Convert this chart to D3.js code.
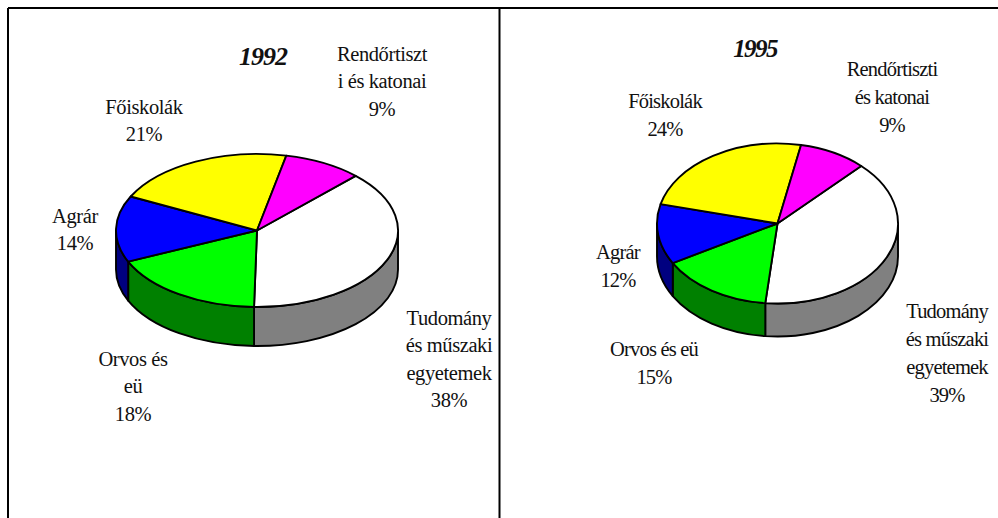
<!DOCTYPE html>
<html>
<head>
<meta charset="utf-8">
<script src="https://cdn.jsdelivr.net/npm/d3@7"></script>
<style>
  html, body { margin: 0; padding: 0; background: #fff; overflow: hidden; }
  text { font-family: "Liberation Serif", serif; fill: #111; }
</style>
</head>
<body>
<div id="chart"></div>
<script>
// slice order, clockwise from the start angle
const categories = ["Tudomány és műszaki egyetemek", "Orvos és eü", "Agrár", "Főiskolák", "Rendőrtiszti és katonai"];
const values1992 = [38, 18, 14, 21, 9];
const values1995 = [39, 15, 12, 24, 9];
const labelLines1992 = [
  ["Tudomány", "és műszaki", "egyetemek"],
  ["Orvos és", "eü"],
  ["Agrár"],
  ["Főiskolák"],
  ["Rendőrtiszt", "i és katonai"]
];
const labelLines1995 = [
  ["Tudomány", "és műszaki", "egyetemek"],
  ["Orvos és eü"],
  ["Agrár"],
  ["Főiskolák"],
  ["Rendőrtiszti", "és katonai"]
];
const topColors = ["#ffffff", "#00ff00", "#0000ff", "#ffff00", "#ff00ff"];
const sideColors = ["#808080", "#008000", "#000080", "#808000", "#800080"];

const width = 998, height = 518;

const svg = d3.select("#chart").append("svg")
  .attr("width", width)
  .attr("height", height)
  .style("display", "block");

// table frame
const frame = [
  [[8, 8], [998, 8]],
  [[8, 8], [8, 518]],
  [[499.5, 8], [499.5, 518]]
];
svg.selectAll("line.frame")
  .data(frame)
  .enter()
  .append("line")
  .attr("class", "frame")
  .attr("x1", d => d[0][0])
  .attr("y1", d => d[0][1])
  .attr("x2", d => d[1][0])
  .attr("y2", d => d[1][1])
  .attr("stroke", "#000")
  .attr("stroke-width", 2);

function drawPie(cfg) {
  const g = svg.append("g");
  const ratio = cfg.ry / cfg.rx;
  const start = cfg.startDeg * Math.PI / 180;

  const pie = d3.pie()
    .sort(null)
    .startAngle(start)
    .endAngle(start + 2 * Math.PI);
  const slices = pie(cfg.values);

  const arc = d3.arc().innerRadius(0).outerRadius(cfg.rx);

  const rim = (t, dy) => [
    cfg.cx + cfg.rx * Math.sin(t),
    cfg.cy - cfg.ry * Math.cos(t) + dy
  ];

  // only the front half of the drum shows a wall
  function wall(d) {
    const t0 = Math.max(d.startAngle, Math.PI / 2);
    const t1 = Math.min(d.endAngle, 3 * Math.PI / 2);
    if (t1 <= t0) return null;
    const a = rim(t0, 0), b = rim(t1, 0), c = rim(t1, cfg.depth), e = rim(t0, cfg.depth);
    return "M" + a + "A" + cfg.rx + "," + cfg.ry + " 0 0 1 " + b +
      "L" + c + "A" + cfg.rx + "," + cfg.ry + " 0 0 0 " + e + "Z";
  }

  g.selectAll("path.side")
    .data(slices.filter(d => wall(d)))
    .enter()
    .append("path")
    .attr("class", "side")
    .attr("d", wall)
    .attr("fill", d => sideColors[d.index])
    .attr("stroke", "#000")
    .attr("stroke-width", cfg.stroke)
    .attr("stroke-linejoin", "round");

  g.selectAll("path.top")
    .data(slices)
    .enter()
    .append("path")
    .attr("class", "top")
    .attr("d", arc)
    .attr("transform", "translate(" + cfg.cx + "," + cfg.cy + ") scale(1," + ratio + ")")
    .attr("vector-effect", "non-scaling-stroke")
    .attr("fill", d => topColors[d.index])
    .attr("stroke", "#000")
    .attr("stroke-width", cfg.stroke)
    .attr("stroke-linejoin", "round");

  g.append("text")
    .attr("x", cfg.titleAt[0])
    .attr("y", cfg.titleAt[1])
    .attr("text-anchor", "middle")
    .attr("font-size", cfg.titleSize)
    .attr("letter-spacing", cfg.titleSpacing)
    .attr("font-weight", "bold")
    .attr("font-style", "italic")
    .text(cfg.title);

  cfg.labelAt.forEach((p, i) => {
    const lines = cfg.lines[i].concat(cfg.values[i] + "%");
    const t = g.append("text")
      .attr("text-anchor", "middle")
      .attr("font-size", cfg.fontSize)
      .attr("letter-spacing", cfg.spacing);
    lines.forEach((line, j) => {
      t.append("tspan")
        .attr("x", p[0])
        .attr("y", p[1] + j * cfg.lineHeight)
        .text(line);
    });
  });
}

drawPie({
  title: "1992", titleAt: [263, 65], titleSize: 26, titleSpacing: -1,
  values: values1992, lines: labelLines1992, startDeg: 44.4,
  cx: 257, cy: 230.5, rx: 141, ry: 76.5, depth: 39,
  stroke: 1.9, fontSize: 20.5, spacing: -0.4, lineHeight: 27.4,
  labelAt: [[449, 325], [133, 366], [75, 223], [144, 114], [382, 61]]
});

drawPie({
  title: "1995", titleAt: [755, 57], titleSize: 25, titleSpacing: -1.6,
  values: values1995, lines: labelLines1995, startDeg: 44,
  cx: 777.5, cy: 223.5, rx: 120.5, ry: 80, depth: 33,
  stroke: 1.9, fontSize: 20.5, spacing: -0.8, lineHeight: 28,
  labelAt: [[947, 318], [654, 356], [618, 259], [665, 108], [892, 76]]
});
</script>
</body>
</html>
